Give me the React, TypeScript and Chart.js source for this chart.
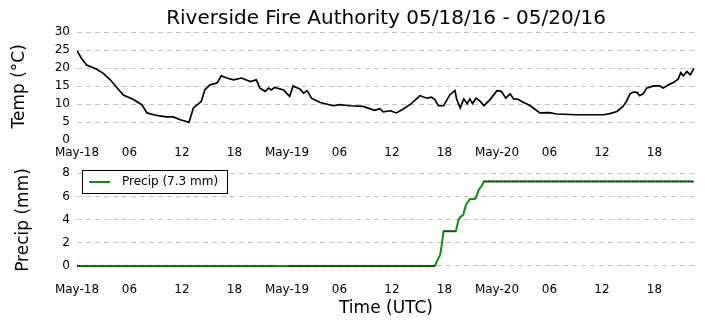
import React, { useEffect, useRef } from "react";
import { Chart, registerables } from "chart.js";

Chart.register(...registerables);
Chart.defaults.font.family = "'DejaVu Sans', sans-serif";
Chart.defaults.color = "#000";

const TITLE = "Riverside Fire Authority 05/18/16 - 05/20/16";
const X_MAX = 70.63;
const X_TICK_LABELS: Record<number, string> = {
  0: "May-18", 6: "06", 12: "12", 18: "18",
  24: "May-19", 30: "06", 36: "12", 42: "18",
  48: "May-20", 54: "06", 60: "12", 66: "18",
};

// hours since May-18 00:00 UTC
const tempHours = [
  0, 0.5, 1.1, 2.2, 3.0, 3.8, 4.5, 5.3, 6.4, 7.4, 8.0, 9.1, 10.2, 11.0, 11.8, 12.8,
  13.3, 13.9, 14.2, 14.6, 15.2, 16.0, 16.5, 17.1, 17.9, 18.8, 19.8, 20.5, 20.9, 21.5,
  21.9, 22.2, 22.6, 23.6, 24.3, 24.7, 25.5, 25.9, 26.3, 26.8, 27.8, 29.3, 30.0, 31.2,
  32.7, 34.0, 34.6, 35.0, 35.8, 36.5, 37.3, 38.2, 39.2, 40.0, 40.5, 40.9, 41.3, 41.9,
  42.6, 43.2, 43.4, 43.8, 44.2, 44.6, 44.9, 45.2, 45.6, 46.1, 46.5, 47.2, 48.0, 48.5,
  49.0, 49.5, 49.9, 50.4, 51.0, 51.8, 52.9, 54.0, 54.8, 57.1, 60.2, 60.9, 61.7, 62.4,
  62.8, 63.2, 63.6, 64.0, 64.3, 64.7, 65.1, 65.9, 66.6, 67.0, 67.6, 68.2, 68.7, 69.0,
  69.3, 69.7, 70.1, 70.5,
];
const tempValues = [
  24.9, 22.8, 20.9, 19.8, 18.6, 16.8, 14.8, 12.6, 11.4, 9.9, 7.6, 6.9, 6.5, 6.5, 5.7, 5.0,
  9.0, 10.2, 10.8, 14.0, 15.4, 15.9, 17.9, 17.3, 16.8, 17.3, 16.3, 16.8, 14.5, 13.6,
  14.5, 14.0, 14.7, 14.0, 12.2, 15.1, 14.2, 13.1, 13.8, 11.7, 10.5, 9.6, 9.9, 9.6,
  9.4, 8.3, 8.8, 7.9, 8.2, 7.6, 8.7, 10.2, 12.4, 11.7, 12.0, 11.3, 9.6, 9.6,
  12.6, 13.8, 11.3, 9.0, 11.5, 10.2, 11.5, 10.2, 11.7, 10.8, 9.6, 11.3, 13.8, 13.6,
  11.7, 12.9, 11.5, 11.4, 10.6, 9.6, 7.6, 7.7, 7.3, 7.1, 7.1, 7.4, 8.0, 9.4,
  10.8, 12.9, 13.4, 13.3, 12.4, 12.9, 14.5, 15.1, 15.1, 14.5, 15.4, 16.1, 17.0, 18.8,
  17.9, 19.1, 18.2, 20.0,
];

const precipHours = [
  0, 22.6, 24.2, 40.9, 41.2, 41.5, 41.7, 41.9, 43.3, 43.6, 43.85, 44.15, 44.3, 44.5,
  44.9, 45.5, 45.7, 45.9, 46.25, 46.5, 70.5,
];
const precipValues = [
  0, 0, 0, 0, 0.5, 0.95, 1.9, 3.0, 3.0, 3.97, 4.26, 4.4, 4.9, 5.35,
  5.76, 5.8, 6.1, 6.56, 6.9, 7.3, 7.3,
];
const PRECIP_LABEL = "Precip (7.3 mm)";
const MARKER_GAP = [22.6, 24.2];

const GREEN = "#138a13";
const GRID = "#c4c4c4";

function xScale(padding: number, titleOpts: any) {
  return {
    type: "linear",
    min: 0,
    max: X_MAX,
    border: { display: false },
    grid: { display: false, drawTicks: false },
    ticks: {
      stepSize: 6,
      includeBounds: false,
      autoSkip: false,
      maxRotation: 0,
      padding,
      font: { size: 12 },
      callback: (v: number) => X_TICK_LABELS[v] ?? "",
    },
    title: titleOpts,
  };
}

function zeroPad(scale: any) {
  scale.paddingTop = 0;
  scale.paddingBottom = 0;
  scale.paddingLeft = 0;
  scale.paddingRight = 0;
}

const legendPlugin = {
  id: "innerLegend",
  afterDraw(chart: any) {
    const { ctx, chartArea } = chart;
    const x = chartArea.left + 5.5;
    const y = chartArea.top + 4.5;
    const w = 145;
    const h = 23;
    ctx.save();
    ctx.fillStyle = "#fff";
    ctx.fillRect(x, y, w, h);
    ctx.strokeStyle = "#000";
    ctx.lineWidth = 1;
    ctx.strokeRect(x, y, w, h);
    const cy = y + h / 2;
    ctx.strokeStyle = GREEN;
    ctx.lineWidth = 2;
    ctx.beginPath();
    ctx.moveTo(x + 7, cy);
    ctx.lineTo(x + 27, cy);
    ctx.stroke();
    ctx.fillStyle = "#000";
    ctx.fillRect(x + 7, cy - 0.5, 1, 1);
    ctx.fillRect(x + 26, cy - 0.5, 1, 1);
    ctx.font = "12px 'DejaVu Sans', sans-serif";
    ctx.textBaseline = "middle";
    ctx.textAlign = "left";
    ctx.fillText(chart.data.datasets[0].label, x + 39.5, cy);
    ctx.restore();
  },
};

export default function App() {
  const topRef = useRef<HTMLCanvasElement>(null);
  const botRef = useRef<HTMLCanvasElement>(null);

  useEffect(() => {
    const tempData = tempHours.map((h, i) => ({ x: h, y: tempValues[i] }));
    const precipData = precipHours.map((h, i) => ({ x: h, y: precipValues[i] }));

    const top = new Chart(topRef.current!, {
      type: "line",
      data: {
        datasets: [
          {
            label: "Temp",
            data: tempData,
            borderColor: "#000",
            borderWidth: 1.7,
            pointRadius: 0,
            tension: 0,
          },
        ],
      },
      options: {
        animation: false,
        responsive: false,
        layout: { padding: { top: 0, left: 0, right: 10, bottom: 0 } },
        plugins: {
          legend: { display: false },
          tooltip: { enabled: false },
          title: {
            display: true,
            text: TITLE,
            fullSize: false,
            color: "#000",
            font: { size: 20, weight: "normal" },
            padding: { top: 6.3, bottom: 2 },
          },
        },
        scales: {
          x: {
            ...xScale(5, { display: false }),
            afterFit: (s: any) => {
              s.height = 19.7;
              zeroPad(s);
            },
          },
          y: {
            min: 0,
            max: 30,
            border: { display: false, dash: [5, 4] },
            grid: {
              drawTicks: false,
              color: (c: any) => (c.tick && c.tick.value === 0 ? "rgba(0,0,0,0)" : GRID),
              lineWidth: 1,
            },
            ticks: { stepSize: 5, padding: 7, font: { size: 12 } },
            title: {
              display: true,
              text: "Temp (°C)",
              font: { size: 17 },
              padding: { top: 9, bottom: 0 },
            },
            afterFit: (s: any) => {
              s.width = 77;
              zeroPad(s);
            },
          },
        },
      } as any,
    });

    const bot = new Chart(botRef.current!, {
      type: "line",
      data: {
        datasets: [
          {
            label: PRECIP_LABEL,
            data: precipData,
            borderColor: GREEN,
            borderWidth: 2,
            pointRadius: 0,
            tension: 0,
            order: 1,
          },
          {
            label: "markers",
            data: precipData,
            borderColor: "#000",
            borderWidth: 1.6,
            borderDash: [1, 1],
            pointRadius: 0,
            tension: 0,
            order: 0,
            segment: {
              borderColor: (c: any) => {
                const flat = c.p0.parsed.y === c.p1.parsed.y;
                const inGap = c.p0.parsed.x >= MARKER_GAP[0] && c.p1.parsed.x <= MARKER_GAP[1];
                return flat && !inGap ? "rgba(0,0,0,0.8)" : "rgba(0,0,0,0)";
              },
            },
          },
        ],
      },
      options: {
        animation: false,
        responsive: false,
        layout: { padding: { top: 6, left: 0, right: 10, bottom: 0 } },
        plugins: {
          legend: { display: false },
          tooltip: { enabled: false },
          title: { display: false },
        },
        scales: {
          x: {
            ...xScale(8.5, {
              display: true,
              text: "Time (UTC)",
              font: { size: 17 },
              padding: { top: 0, bottom: 9 },
            }),
            afterFit: (s: any) => {
              s.height = 54;
              zeroPad(s);
            },
          },
          y: {
            min: -0.7,
            max: 8.63,
            border: { display: false, dash: [5, 4] },
            grid: { drawTicks: false, color: GRID, lineWidth: 1 },
            ticks: { stepSize: 2, includeBounds: false, padding: 7, font: { size: 12 } },
            title: {
              display: true,
              text: "Precip (mm)",
              font: { size: 17 },
              padding: { top: 13, bottom: 0 },
            },
            afterFit: (s: any) => {
              s.width = 77;
              zeroPad(s);
            },
          },
        },
      } as any,
      plugins: [legendPlugin],
    });

    return () => {
      top.destroy();
      bot.destroy();
    };
  }, []);

  return (
    <div style={{ position: "absolute", left: 0, top: 0, width: 705, height: 328, background: "#fff" }}>
      <canvas ref={topRef} width={705} height={160} style={{ position: "absolute", left: 0, top: 0 }} />
      <canvas ref={botRef} width={705} height={168} style={{ position: "absolute", left: 0, top: 160 }} />
    </div>
  );
}
